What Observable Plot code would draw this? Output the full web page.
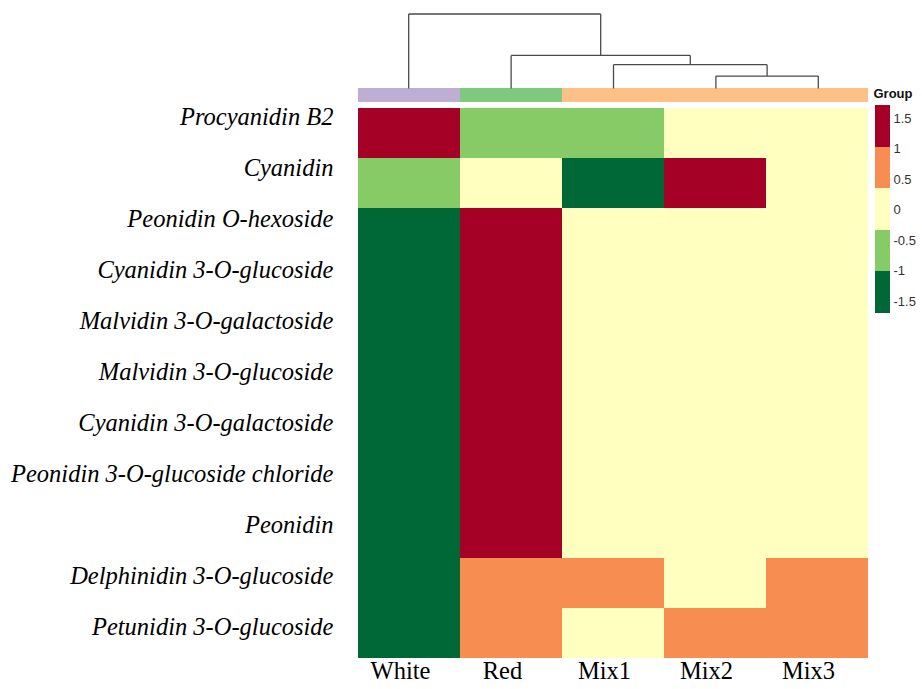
<!DOCTYPE html>
<html>
<head>
<meta charset="utf-8">
<script src="https://cdn.jsdelivr.net/npm/d3@7"></script>
<script src="https://cdn.jsdelivr.net/npm/@observablehq/plot@0.6"></script>
<style>
  body { margin: 0; background: #fff; }
  #chart { position: relative; width: 922px; height: 689px; }
  #chart svg { position: absolute; left: 0; top: 0; overflow: visible; background: none; }
  #chart svg.heat text { font-family: "Liberation Serif", "Times New Roman", serif !important; }
  #chart svg.side text { font-family: "Liberation Sans", Arial, sans-serif !important; }
</style>
</head>
<body>
<div id="chart"></div>
<script>
// Samples (columns) in dendrogram leaf order, with their group annotation
const samples = ["White", "Red", "Mix1", "Mix2", "Mix3"];
const sampleGroups = ["White", "Red", "Mix", "Mix", "Mix"];

// Compounds (rows), top to bottom
const compounds = [
  "Procyanidin B2",
  "Cyanidin",
  "Peonidin O-hexoside",
  "Cyanidin 3-O-glucoside",
  "Malvidin 3-O-galactoside",
  "Malvidin 3-O-glucoside",
  "Cyanidin 3-O-galactoside",
  "Peonidin 3-O-glucoside chloride",
  "Peonidin",
  "Delphinidin 3-O-glucoside",
  "Petunidin 3-O-glucoside"
];

// Row-scaled abundance (z-score), one array per compound, columns as in `samples`
const zProcyanidinB2   = [ 1.60, -0.75, -0.70, -0.10, -0.05];
const zCyanidin        = [-0.60,  0.10, -1.35,  1.55,  0.30];
const zPeoHexoside     = [-1.25,  1.70, -0.15, -0.12, -0.18];
const zCya3Glc         = [-1.30,  1.68, -0.10, -0.14, -0.14];
const zMal3Gal         = [-1.22,  1.72, -0.16, -0.17, -0.17];
const zMal3Glc         = [-1.28,  1.66, -0.12, -0.13, -0.13];
const zCya3Gal         = [-1.26,  1.69, -0.14, -0.15, -0.14];
const zPeo3GlcCl       = [-1.24,  1.71, -0.16, -0.15, -0.16];
const zPeonidin        = [-1.29,  1.67, -0.13, -0.12, -0.13];
const zDel3Glc         = [-1.75,  0.60,  0.55,  0.05,  0.55];
const zPet3Glc         = [-1.75,  0.62,  0.20,  0.48,  0.45];
const zRows = [zProcyanidinB2, zCyanidin, zPeoHexoside, zCya3Glc, zMal3Gal, zMal3Glc,
               zCya3Gal, zPeo3GlcCl, zPeonidin, zDel3Glc, zPet3Glc];

// Colour bins: breaks and their colours (low to high)
const colorBreaks = [-1.69, -1.01, -0.33, 0.35, 1.03, 1.71];
const colorBins = ["#006837", "#86cb66", "#ffffbf", "#f88d52", "#a50026"];
const legendTicks = [-1.5, -1, -0.5, 0, 0.5, 1, 1.5];

// Group annotation colours
const groupNames = ["White", "Red", "Mix"];
const groupColors = ["#beaed4", "#7fc97f", "#fdc086"];

// Column clustering: [left child, right child, merge height]; node k is "n{k+1}"
const merges = [
  ["Mix2", "Mix3", 1.0],
  ["Mix1", "n1", 1.92],
  ["Red", "n2", 2.66],
  ["White", "n3", 6.0]
];

// ---- derived tables ----
const cells = compounds.flatMap((c, i) =>
  samples.map((s, j) => ({compound: c, sample: s, z: zRows[i][j]})));

const annot = samples.map((s, j) => ({sample: s, group: sampleGroups[j]}));

const nodes = {};
samples.forEach((s, i) => nodes[s] = {x: i, h: 0});
const segments = [];
merges.forEach(([a, b, h], k) => {
  const A = nodes[a], B = nodes[b];
  segments.push({x1: A.x, y1: A.h, x2: A.x, y2: h});
  segments.push({x1: B.x, y1: B.h, x2: B.x, y2: h});
  segments.push({x1: A.x, y1: h, x2: B.x, y2: h});
  nodes["n" + (k + 1)] = {x: (A.x + B.x) / 2, h};
});

const legendBlocks = colorBins.map((c, i) => ({lo: colorBreaks[i], hi: colorBreaks[i + 1], color: c}));

// shared horizontal frame for the column-aligned parts
const W = 922, H = 689;
const mLeft = 357, mRight = W - 869;
const chart = document.getElementById("chart");

// ---- dendrogram ----
const dendro = Plot.plot({
  width: W, height: 88,
  marginLeft: mLeft, marginRight: mRight, marginTop: 13.5, marginBottom: 0,
  x: {domain: [-0.5, samples.length - 0.5], axis: null},
  y: {domain: [0, 6], axis: null},
  marks: [
    Plot.link(segments, {x1: "x1", y1: "y1", x2: "x2", y2: "y2",
      stroke: "#4a4a4a", strokeWidth: 1.3})
  ]
});

// ---- group annotation bar ----
const annotation = Plot.plot({
  width: W, height: 102,
  marginLeft: mLeft, marginRight: mRight, marginTop: 88, marginBottom: 0,
  x: {domain: samples, padding: 0, axis: null},
  color: {domain: groupNames, range: groupColors},
  marks: [
    Plot.cell(annot, {x: "sample", fill: "group", shapeRendering: "crispEdges"}),
    Plot.text(["Group"], {frameAnchor: "top-right", dx: 4, dy: 0.5,
      text: d => d, textAnchor: "start", fontWeight: "bold", fontSize: 13, fill: "#111"})
  ]
});

// ---- heatmap cells and sample labels ----
const heat = Plot.plot({
  width: W, height: H,
  marginLeft: mLeft, marginRight: mRight, marginTop: 106, marginBottom: 30,
  x: {domain: samples, padding: 0},
  y: {domain: compounds, padding: 0, axis: null},
  color: {type: "threshold", domain: colorBreaks.slice(1, -1), range: colorBins},
  marks: [
    Plot.cell(cells, {x: "sample", y: "compound", fill: "z", shapeRendering: "crispEdges"}),
    Plot.axisX({tickSize: 0, tickPadding: 2, label: null, dx: -9,
      fontSize: 24.5, fill: "#000"})
  ]
});

// ---- compound labels (their row pitch is a little wider than the cells') ----
const rowLabels = Plot.plot({
  width: W, height: H,
  marginLeft: mLeft, marginRight: mRight, marginTop: 104.6, marginBottom: 21.2,
  y: {type: "band", domain: compounds, padding: 0},
  marks: [
    Plot.axisY({tickSize: 0, tickPadding: 24, label: null, dy: -15,
      fontSize: 24.5, fontStyle: "italic", fill: "#000"})
  ]
});

// ---- colour key ----
const key = Plot.plot({
  width: W, height: 313,
  marginLeft: 875, marginRight: W - 890, marginTop: 105, marginBottom: 0,
  x: {domain: [0, 1], axis: null},
  y: {domain: [colorBreaks[0], colorBreaks[colorBreaks.length - 1]], axis: null},
  marks: [
    Plot.rect(legendBlocks, {x1: 0, x2: 1, y1: "lo", y2: "hi", fill: "color", shapeRendering: "crispEdges"}),
    Plot.axisY(legendTicks, {anchor: "right", tickSize: 0, tickPadding: 3, label: null,
      tickFormat: d => String(d), fontSize: 13, fill: "#333"})
  ]
});

heat.classList.add("heat");
rowLabels.classList.add("heat");
annotation.classList.add("side");
key.classList.add("side");
chart.append(heat, rowLabels, annotation, dendro, key);
</script>
</body>
</html>
